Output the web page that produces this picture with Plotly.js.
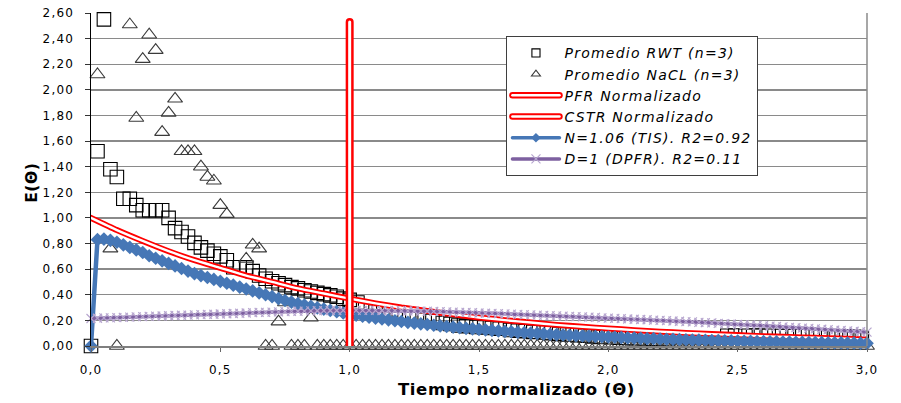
<!DOCTYPE html>
<html>
<head>
<meta charset="utf-8">
<script src="https://cdn.plot.ly/plotly-3.0.1.min.js"></script>
<style>
  html, body { margin: 0; padding: 0; background: #fff; }
  #chart { width: 901px; height: 403px; }
  .legendtext { letter-spacing: 1.25px; }
  .xtick text, .ytick text { letter-spacing: 1.2px; }
  .annotation-text { letter-spacing: 0.6px; }
  .legendlines path, .scatterlayer .js-line { stroke-linecap: round !important; }
</style>
</head>
<body>
<div id="chart"></div>
<script>
// Normalised time grid shared by the NaCl run and the two fitted models
const theta = [
  0,0.025,0.05,0.075,0.1,0.125,0.15,0.175,0.2,0.225,
  0.25,0.275,0.3,0.325,0.35,0.375,0.4,0.425,0.45,0.475,
  0.5,0.525,0.55,0.575,0.6,0.625,0.65,0.675,0.7,0.725,
  0.75,0.775,0.8,0.825,0.85,0.875,0.9,0.925,0.95,0.975,
  1,1.025,1.05,1.075,1.1,1.125,1.15,1.175,1.2,1.225,
  1.25,1.275,1.3,1.325,1.35,1.375,1.4,1.425,1.45,1.475,
  1.5,1.525,1.55,1.575,1.6,1.625,1.65,1.675,1.7,1.725,
  1.75,1.775,1.8,1.825,1.85,1.875,1.9,1.925,1.95,1.975,
  2,2.025,2.05,2.075,2.1,2.125,2.15,2.175,2.2,2.225,
  2.25,2.275,2.3,2.325,2.35,2.375,2.4,2.425,2.45,2.475,
  2.5,2.525,2.55,2.575,2.6,2.625,2.65,2.675,2.7,2.725,
  2.75,2.775,2.8,2.825,2.85,2.875,2.9,2.925,2.95,2.975,
  3
];

// Promedio RWT (n=3)
const thetaRWT = [
  0,0.025,0.05,0.075,0.1,0.125,0.15,0.175,0.2,0.225,
  0.25,0.275,0.3,0.325,0.35,0.375,0.4,0.425,0.45,0.475,
  0.5,0.525,0.55,0.575,0.6,0.625,0.65,0.675,0.7,0.725,
  0.75,0.775,0.8,0.825,0.85,0.875,0.9,0.925,0.95,0.975,
  1,1.03,1.06,1.1,1.13,1.16,1.19,1.23,1.26,1.29,
  1.32,1.36,1.39,1.42,1.45,1.49,1.52,1.55,1.58,1.62,
  1.65,1.68,1.71,1.75,1.78,1.81,1.84,1.88,1.91,1.94,
  1.97,2.01,2.04,2.07,2.1,2.14,2.17,2.2,2.23,2.27,
  2.3,2.33,2.36,2.4,2.43,2.46,2.49,2.53,2.56,2.59,
  2.62,2.66,2.69,2.72,2.75,2.79,2.82,2.85,2.88,2.92,
  2.95,2.98
];
const eRWT = [
  0,1.52,2.55,1.38,1.32,1.15,1.15,1.10,1.06,1.06,
  1.06,1.06,1.00,0.92,0.89,0.855,0.805,0.77,0.745,0.72,
  0.70,0.67,0.615,0.615,0.615,0.585,0.55,0.525,0.505,0.49,
  0.475,0.46,0.45,0.435,0.425,0.415,0.405,0.395,0.385,0.37,
  0.36,0.34,0.30,0.27,0.26,0.25,0.245,0.23,0.215,0.205,
  0.195,0.18,0.172,0.16,0.155,0.148,0.145,0.14,0.135,0.125,
  0.12,0.115,0.11,0.105,0.10,0.095,0.09,0.085,0.08,0.075,
  0.07,0.068,0.065,0.063,0.06,0.058,0.056,0.054,0.052,0.05,
  0.05,0.048,0.047,0.046,0.045,0.08,0.082,0.08,0.082,0.08,
  0.08,0.078,0.08,0.078,0.078,0.076,0.078,0.076,0.075,0.074,
  0.072,0.06
];

// Promedio NaCl (n=3); null where the reading is above the axis range
const eNaCl = [
  null,2.12,null,0.76,0,null,2.51,1.78,2.24,2.43,
  2.31,1.67,1.82,1.93,1.52,1.52,1.52,1.40,1.32,1.29,
  1.10,1.03,null,null,0.68,0.79,0.76,0,0,0.19,
  0.34,0,0,0,0.22,0,0,0,0,0,
  0,0,0,0,0,0,0,0,0,0,
  0,0,0,0,0,0,0,0,0,0,
  0,0,0,0,0,0,0,0,0,0,
  0,0,0,0,0,0,0,0,0,0,
  0,0,0,0,0,0,0,0,0,0,
  0,0,0,0,0,0,0,0,0,0,
  0,0,0,0,0,0,0,0,0,0,
  0,0,0,0,0,0,0,0,0,0,
  0
];

// Ideal reactors
const thetaPFR = [1, 1];
const ePFR = [0, 2.53];
const thetaCSTR = [0,0.1,0.2,0.3,0.4,0.5,0.6,0.7,0.8,0.9,1,1.1,1.2,1.3,1.4,1.5,1.6,1.7,1.8,1.9,2,2.1,2.2,2.3,2.4,2.5,2.6,2.7,2.8,2.9,3];
const eCSTR = [1.0,0.905,0.82,0.74,0.67,0.61,0.55,0.5,0.45,0.41,0.37,0.333,0.30,0.273,0.247,0.223,0.202,0.183,0.165,0.15,0.137,0.124,0.112,0.102,0.093,0.085,0.077,0.07,0.064,0.058,0.05];

// Tanks-in-series fit, N = 1.06
const eTIS = [
  0,.83,.835,.825,.81,.79,.77,.75,.73,.705,
  .685,.665,.645,.625,.605,.585,.565,.55,.535,.52,
  .505,.49,.475,.46,.445,.43,.415,.40,.385,.37,
  .355,.343,.331,.32,.309,.298,.288,.278,.268,.258,
  .249,.241,.233,.225,.218,.211,.204,.197,.191,.185,
  .179,.173,.168,.162,.157,.152,.147,.143,.138,.134,
  .130,.126,.122,.118,.114,.111,.107,.104,.101,.098,
  .095,.092,.089,.086,.084,.081,.079,.077,.074,.072,
  .070,.068,.066,.064,.062,.060,.058,.057,.055,.053,
  .052,.050,.049,.047,.046,.045,.043,.042,.041,.040,
  .039,.037,.036,.035,.034,.033,.032,.031,.030,.029,
  .028,.027,.027,.026,.025,.024,.024,.023,.022,.021,
  .021
];

// Dispersed plug flow fit, D = 1
const eDPFR = [
  .215,.217,.219,.220,.222,.224,.226,.227,.229,.231,
  .233,.234,.236,.238,.240,.241,.243,.245,.247,.248,
  .250,.252,.254,.256,.258,.260,.262,.263,.265,.267,
  .268,.270,.271,.272,.274,.275,.276,.277,.277,.278,
  .278,.278,.278,.278,.278,.277,.277,.276,.275,.274,
  .273,.272,.271,.270,.268,.267,.265,.263,.262,.260,
  .258,.256,.255,.253,.251,.249,.247,.245,.243,.241,
  .239,.237,.235,.233,.231,.229,.227,.225,.223,.220,
  .218,.216,.214,.211,.209,.207,.205,.202,.200,.198,
  .195,.193,.190,.188,.185,.183,.180,.177,.175,.172,
  .169,.166,.164,.161,.158,.155,.152,.149,.146,.143,
  .140,.137,.134,.131,.128,.124,.121,.118,.115,.111,
  .108
];

// Axis ticks
const xTickVals = [0, 0.5, 1, 1.5, 2, 2.5, 3];
const xTickText = ['0,0', '0,5', '1,0', '1,5', '2,0', '2,5', '3,0'];
const yTickVals = [0, 0.2, 0.4, 0.6, 0.8, 1.0, 1.2, 1.4, 1.6, 1.8, 2.0, 2.2, 2.4, 2.6];
const yTickText = ['0,00','0,20','0,40','0,60','0,80','1,00','1,20','1,40','1,60','1,80','2,00','2,20','2,40','2,60'];

const names = {
  rwt: 'Promedio RWT (n=3)',
  nacl: 'Promedio NaCL (n=3)',
  pfr: 'PFR Normalizado',
  cstr: 'CSTR Normalizado',
  tis: 'N=1.06 (TIS). R2=0.92',
  dpfr: 'D=1 (DPFR). R2=0.11'
};

const RED = '#ff0000';
const BLUE = '#4677b6';
const PURPLE = '#7d60a0';

const traces = [
  {
    x: thetaRWT, y: eRWT, name: names.rwt, legendrank: 1,
    type: 'scatter', mode: 'markers', cliponaxis: false,
    marker: { symbol: 'square-open', size: 13.5, color: '#000', line: { width: 1.1, color: '#000' } }
  },
  {
    x: theta, y: eNaCl, name: names.nacl, legendrank: 2,
    type: 'scatter', mode: 'markers', cliponaxis: false,
    marker: { symbol: 'triangle-up-open', size: 13, color: '#3a3a3a', line: { width: 1.1, color: '#3a3a3a' } }
  },
  {
    x: thetaCSTR, y: eCSTR, name: names.cstr, legendrank: 4,
    type: 'scatter', mode: 'lines', line: { color: RED, width: 6, shape: 'spline', smoothing: 0.6 }
  },
  {
    x: thetaCSTR, y: eCSTR, showlegend: false, hoverinfo: 'skip',
    type: 'scatter', mode: 'lines', line: { color: '#ffffff', width: 2.4, shape: 'spline', smoothing: 0.6 }
  },
  {
    x: theta, y: eTIS, name: names.tis, legendrank: 5,
    type: 'scatter', mode: 'lines+markers', cliponaxis: false,
    line: { color: BLUE, width: 4.5 },
    marker: { symbol: 'diamond', size: 10.5, color: BLUE, line: { width: 0 } }
  },
  {
    x: theta, y: eDPFR, name: names.dpfr, legendrank: 6,
    type: 'scatter', mode: 'lines+markers', cliponaxis: false,
    line: { color: PURPLE, width: 3.5 },
    marker: { symbol: 'x-thin', size: 9, color: '#b7a6cf', line: { width: 1.2, color: '#b7a6cf' } }
  },
  {
    x: thetaPFR, y: ePFR, name: names.pfr, legendrank: 3,
    type: 'scatter', mode: 'lines', line: { color: RED, width: 8 }
  },
  {
    x: thetaPFR, y: ePFR, showlegend: false, hoverinfo: 'skip',
    type: 'scatter', mode: 'lines', line: { color: '#ffffff', width: 3 }
  }
];

const tickFont = { family: 'DejaVu Sans, Arial, sans-serif', size: 12, color: '#000' };

const layout = {
  width: 901, height: 403,
  margin: { l: 91, r: 34, t: 13, b: 57 },
  paper_bgcolor: '#fff', plot_bgcolor: '#fff',
  showlegend: true,
  xaxis: {
    range: [0, 3], tickmode: 'array', tickvals: xTickVals, ticktext: xTickText,
    showgrid: false, zeroline: false,
    showline: true, linecolor: '#7f7f7f', linewidth: 1.5,
    ticks: 'outside', ticklen: 4, tickcolor: '#666', tickwidth: 1,
    ticklabelstandoff: 8, tickfont: tickFont
  },
  yaxis: {
    range: [0, 2.6], tickmode: 'array', tickvals: yTickVals, ticktext: yTickText,
    showgrid: true, gridcolor: '#8a8a8a', gridwidth: 1.3, zeroline: false,
    showline: true, linecolor: '#000', linewidth: 1.5,
    ticks: 'outside', ticklen: 5, tickcolor: '#333', tickwidth: 1,
    ticklabelstandoff: 8, tickfont: tickFont
  },
  shapes: [
    { type: 'line', xref: 'paper', yref: 'paper', x0: 1, x1: 1, y0: 0, y1: 1,
      line: { color: '#8a8a8a', width: 1.5 } }
  ],
  annotations: [
    { text: '<b>Tiempo normalizado (Θ)</b>', xref: 'paper', yref: 'paper',
      x: 0.548, y: -0.13, xanchor: 'center', yanchor: 'middle', showarrow: false,
      font: { family: 'DejaVu Sans, Arial, sans-serif', size: 16.5, color: '#000' } },
    { text: '<b>E(Θ)</b>', xref: 'paper', yref: 'paper', textangle: -90,
      x: -0.076, y: 0.49, xanchor: 'center', yanchor: 'middle', showarrow: false,
      font: { family: 'DejaVu Sans, Arial, sans-serif', size: 15.5, color: '#000' } }
  ],
  legend: {
    x: 0.535, y: 0.931, xanchor: 'left', yanchor: 'top',
    bgcolor: '#fff', bordercolor: '#3f3f3f', borderwidth: 1.3,
    font: { family: 'DejaVu Sans, Arial, sans-serif', size: 14, style: 'italic', color: '#000' },
    itemwidth: 47, tracegroupgap: 0
  }
};

Plotly.newPlot('chart', traces, layout, { staticPlot: true, displayModeBar: false }).then(function (gd) {
  // Smaller markers and double red strokes for the legend keys
  const markerScale = {};
  markerScale[names.rwt] = 0.6;
  markerScale[names.nacl] = 0.6;
  markerScale[names.tis] = 0.7;
  markerScale[names.dpfr] = 1.0;
  gd.querySelectorAll('.legend .traces').forEach(function (item) {
    const label = item.querySelector('.legendtext').textContent;
    const s = markerScale[label];
    if (s) {
      item.querySelectorAll('path.scatterpts').forEach(function (p) {
        const t = p.getAttribute('transform') || '';
        p.setAttribute('transform', t + ' scale(' + s + ')');
        const w = parseFloat(p.style.strokeWidth) || 0;
        if (w) p.style.strokeWidth = (w / s) + 'px';
      });
      if (label === names.tis) {
        const ln = item.querySelector('.legendlines path');
        if (ln) ln.style.strokeWidth = '3.5px';
      }
    }
    if (label === names.pfr || label === names.cstr) {
      const line = item.querySelector('.legendlines path');
      if (line) {
        line.style.strokeWidth = '6.5px';
        const inner = line.cloneNode(true);
        inner.style.stroke = '#ffffff';
        inner.style.strokeWidth = '2.6px';
        line.parentNode.appendChild(inner);
      }
    }
  });
});
</script>
</body>
</html>
